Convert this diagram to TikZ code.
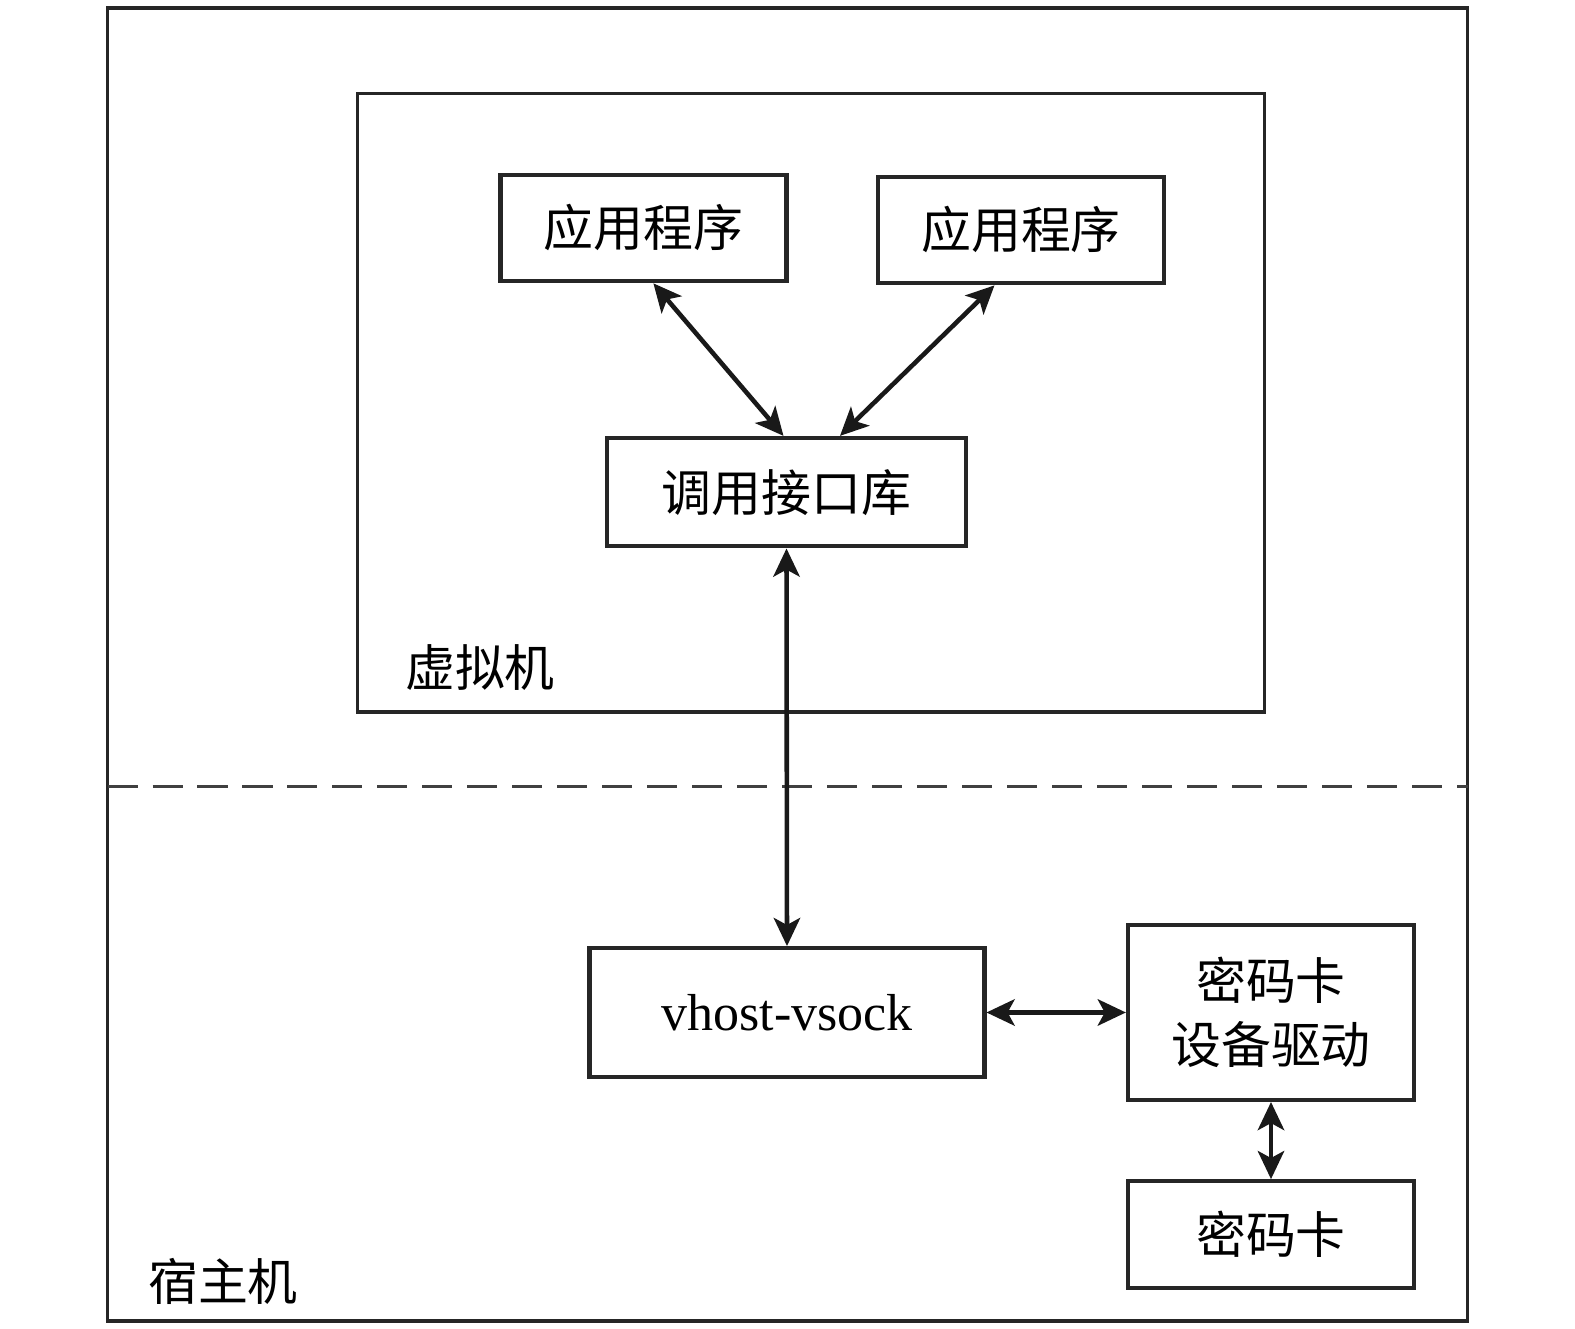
\documentclass[tikz,border=0pt]{standalone}
\usepackage{fontspec}
\setmainfont{Liberation Serif}
\newfontfamily\cjk{Noto Sans CJK SC}
\usetikzlibrary{positioning, arrows.meta}

\begin{document}
\begin{tikzpicture}[line width=1pt, draw=black!85,
    blockbox/.style={draw=black!85, line width=1.2pt, inner sep=0pt, align=center,
        minimum width=2.86cm, minimum height=1.065cm, font=\fontsize{14.2}{18}\selectfont\cjk},
    zonelabel/.style={font=\fontsize{14.2}{18}\selectfont\cjk},
    biarrow/.style={{Stealth[length=8pt,width=7.5pt,inset=2pt]}-{Stealth[length=8pt,width=7.5pt,inset=2pt]}, line width=1.3pt, draw=black!90}]

    \useasboundingbox (0,0) rectangle (15.75,-13.29);

    % host and vm frames
    \draw (1.075,-0.08) rectangle (14.676,-13.21);
    \draw (3.576,-0.934) rectangle (12.647,-7.122);
    \draw[black!75, dash pattern=on 0.30cm off 0.15cm] (1.075,-7.865) -- (14.676,-7.865);
    \node[zonelabel] (vmlabel) at (4.80,-6.68) {虚拟机};
    \node[zonelabel] (hostlabel) at (2.23,-12.81) {宿主机};

    % guest side
    \node[blockbox] (app1) at (6.434,-2.28) {应用程序};
    \node[blockbox] (app2) at (10.21,-2.30) {应用程序};
    \node[blockbox, minimum width=3.596cm, minimum height=1.084cm] (lib) at (7.865,-4.922) {调用接口库};

    % host side
    \node[blockbox, minimum width=3.948cm, minimum height=1.286cm, font=\fontsize{14.8}{18}\selectfont] (vsock) at (7.87,-10.125) {vhost-vsock};
    \node[blockbox, minimum height=1.748cm, font=\fontsize{14.2}{18}\selectfont\cjk] (driver) at (12.71,-10.125) {密码卡\\设备驱动};
    \node[blockbox] (card) at (12.71,-12.345) {密码卡};

    \draw[biarrow] ([xshift=0.10cm]app1.south) -- ([xshift=-0.03cm]lib.north);
    \draw[biarrow] ([xshift=-0.265cm]app2.south) -- ([xshift=0.535cm]lib.north);
    \draw[biarrow] (lib.south) -- (vsock.north);
    \draw[biarrow] (vsock.east) -- (driver.west);
    \draw[biarrow] (driver.south) -- (card.north);
\end{tikzpicture}
\end{document}
